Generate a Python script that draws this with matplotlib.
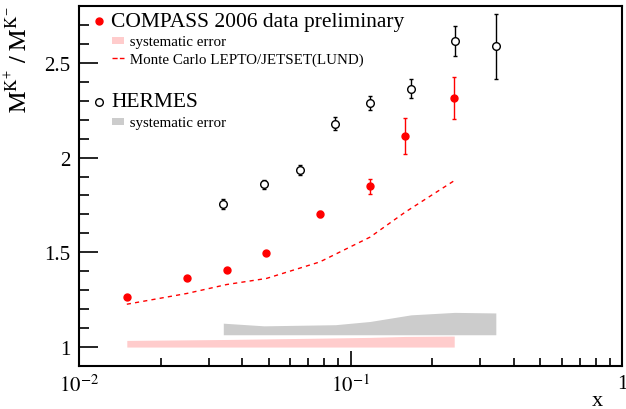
import numpy as np
import matplotlib
matplotlib.use("Agg")
import matplotlib.pyplot as plt
from matplotlib.lines import Line2D
from matplotlib.patches import Patch, Rectangle
from matplotlib.legend_handler import HandlerBase
from matplotlib.ticker import LogLocator, MultipleLocator, FixedLocator

plt.rcParams['font.family'] = ['Liberation Serif', 'DejaVu Serif']
plt.rcParams['mathtext.fontset'] = 'stix'

# COMPASS 2006 preliminary
compass_x = [0.015, 0.025, 0.035, 0.049, 0.077, 0.118, 0.159, 0.241]
compass_y = [1.262, 1.362, 1.409, 1.495, 1.702, 1.849, 2.113, 2.314]
compass_err = [0.008, 0.008, 0.01, 0.01, 0.016, 0.04, 0.095, 0.112]
compass_sys_lo = [1.0, 1.0, 1.0, 1.0, 1.0, 1.0, 1.0, 1.0]
compass_sys_hi = [1.035, 1.038, 1.040, 1.043, 1.047, 1.051, 1.056, 1.058]

# Monte Carlo LEPTO/JETSET
mc_y = [1.226, 1.283, 1.330, 1.362, 1.449, 1.580, 1.712, 1.878]

# HERMES
hermes_x = [0.034, 0.048, 0.065, 0.088, 0.118, 0.167, 0.242, 0.343]
hermes_y = [1.756, 1.858, 1.935, 2.178, 2.289, 2.363, 2.613, 2.588]
hermes_err = [0.027, 0.026, 0.026, 0.035, 0.037, 0.05, 0.079, 0.172]
hermes_sys_lo = [1.065, 1.065, 1.065, 1.065, 1.065, 1.065, 1.065, 1.065]
hermes_sys_hi = [1.126, 1.112, 1.115, 1.118, 1.135, 1.170, 1.183, 1.180]


class ShiftedKey(HandlerBase):
    """Legend key drawn to the right of the usual handle box (ROOT-like)."""

    def __init__(self, x0=15.8, w=8.6, h=5.0):
        super().__init__()
        self.x0, self.w, self.h = x0, w, h

    def create_artists(self, legend, orig_handle, xdescent, ydescent,
                       width, height, fontsize, trans):
        x0 = -xdescent + self.x0
        yc = -ydescent + height / 2
        if isinstance(orig_handle, Patch):
            art = Rectangle((x0, yc - self.h / 2), self.w, self.h,
                            facecolor=orig_handle.get_facecolor(), lw=0)
        else:
            art = Line2D([x0, x0 + self.w], [yc, yc], color=orig_handle.get_color(),
                         lw=orig_handle.get_linewidth(), ls=orig_handle.get_linestyle())
        art.set_transform(trans)
        return [art]


fig = plt.figure(figsize=(6.26, 4.10), dpi=100)
ax = fig.add_axes([79 / 626, 43 / 410, 543 / 626, 360 / 410])

ax.fill_between(hermes_x, hermes_sys_lo, hermes_sys_hi, color='#cccccc', lw=0)
ax.fill_between(compass_x, compass_sys_lo, compass_sys_hi, color='#ffcccc', lw=0)
ax.plot(compass_x, mc_y, color='red', lw=1, ls=(0, (3, 3)))

ax.errorbar(hermes_x, hermes_y, yerr=hermes_err, fmt='o', ms=5.5, mfc='white',
            mec='black', mew=1, ecolor='black', elinewidth=1, capsize=1.5)
ax.errorbar(compass_x, compass_y, yerr=compass_err, fmt='o', ms=5, color='red',
            ecolor='red', elinewidth=1, capsize=1.5)

ax.set_xscale('log')
ax.set_xlim(0.01, 1)
ax.set_ylim(0.9, 2.80)

ax.xaxis.set_major_locator(FixedLocator([0.01, 0.1, 1]))
ax.xaxis.set_minor_locator(LogLocator(base=10, subs=np.arange(2, 10)))
ax.set_xticklabels([r'$10^{-2}$', r'$10^{-1}$', '1'])
ax.yaxis.set_major_locator(MultipleLocator(0.5))
ax.yaxis.set_minor_locator(MultipleLocator(0.1))
ax.set_yticks([1, 1.5, 2, 2.5])
ax.set_yticklabels(['1', '1.5', '2', '2.5'])

ax.tick_params(which='both', direction='in', top=False, right=False, labelsize=15)
ax.tick_params(axis='y', which='major', length=14, width=1.2, pad=6)
ax.tick_params(axis='y', which='minor', length=7, width=1.2)
ax.tick_params(axis='x', which='major', length=11, width=1.2, pad=6)
ax.tick_params(axis='x', which='minor', length=5.5, width=1.2)
for sp in ax.spines.values():
    sp.set_linewidth(1.5)

fig.text(18 / 626, 1 - 6 / 410,
         r'$\mathrm{M}^{\mathrm{K}^{+}}\ /\ \mathrm{M}^{\mathrm{K}^{-}}$',
         rotation=90, ha='center', va='top', fontsize=17.5)
fig.text(597 / 626, 1 - 406 / 410, 'x', ha='center', va='baseline', fontsize=16)

sys_compass = Patch(color='#ffcccc', lw=0)
mc_key = Line2D([], [], color='red', lw=1, ls=(0, (3, 3)))
sys_hermes = Patch(color='#cccccc', lw=0)
handles = [
    Line2D([], [], ls='none', marker='o', ms=5, color='red'),
    sys_compass,
    mc_key,
    Line2D([], [], ls='none'),
    Line2D([], [], ls='none', marker='o', ms=5.5, mfc='white', mec='black', mew=1),
    sys_hermes,
]
labels = ['COMPASS 2006 data preliminary', '     systematic error',
          '     Monte Carlo LEPTO/JETSET(LUND)', ' ', 'HERMES', '     systematic error']
key = ShiftedKey()
leg = ax.legend(handles, labels, loc='upper left', bbox_to_anchor=(0.0105, 1.0),
                frameon=False, handlelength=1.2, handletextpad=0.3, labelspacing=0.33,
                borderaxespad=0,
                handler_map={sys_compass: key, mc_key: key, sys_hermes: key})
sizes = [15.5, 10.8, 10.8, 13, 15.5, 10.8]
for t, s in zip(leg.get_texts(), sizes):
    t.set_fontsize(s)

fig.savefig('out.png', dpi=100)
